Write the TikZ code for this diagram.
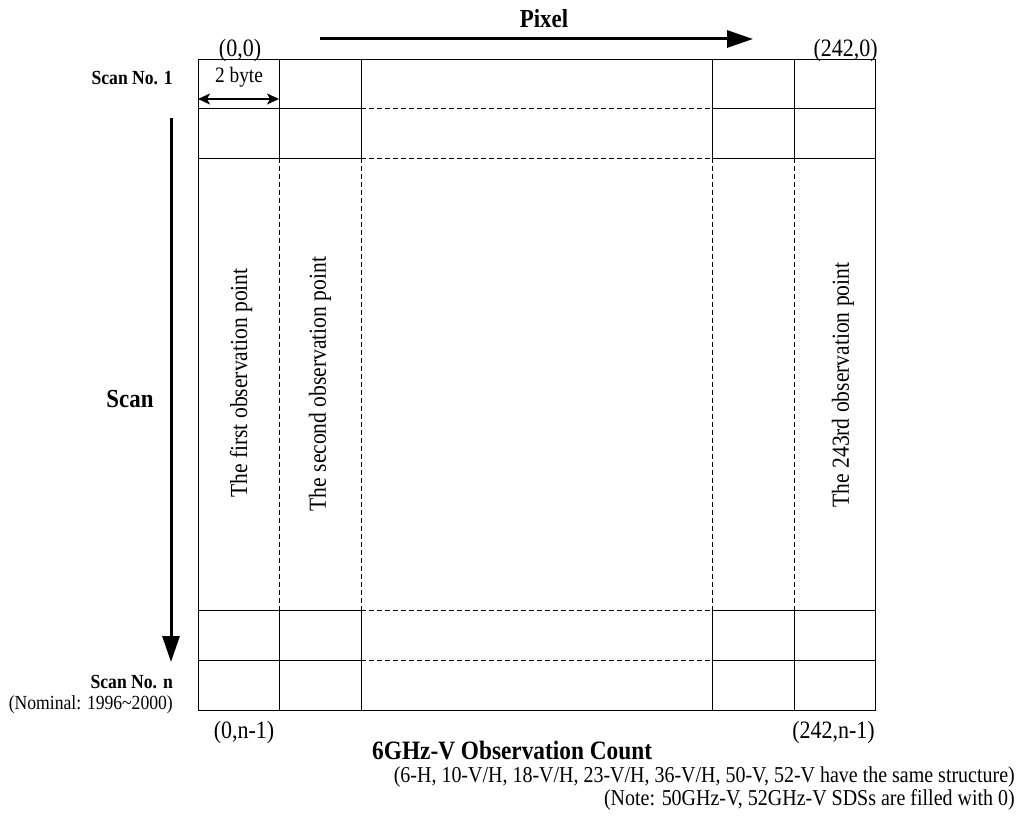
\documentclass[tikz,border=0pt]{standalone}
\usepackage{fontspec}
\setmainfont{Liberation Serif}[FakeStretch=0.88]
\usetikzlibrary{arrows.meta}

\begin{document}
\begin{tikzpicture}[x=1pt, y=-1pt,
        every node/.style={inner sep=0pt},
        cell/.style={line width=0.9pt},
        gap/.style={line width=0.9pt, dash pattern=on 5pt off 3pt},
        bigarrow/.style={line width=3pt, -{Triangle[length=26pt,width=17pt]}},
        bytearrow/.style={line width=1.2pt, {Stealth[length=12pt,width=11pt,inset=3pt]}-{Stealth[length=12pt,width=11pt,inset=3pt]}}]
        \useasboundingbox (0,0) rectangle (1021,818);

        % Outer frame
        \draw[cell] (198,59) rectangle (875,710);

        % Rows
        \foreach \y in {108,158,610,660} {
            \draw[cell] (198,\y) -- (361,\y);
            \draw[gap] (361,\y) -- (712,\y);
            \draw[cell] (712,\y) -- (875,\y);
        }

        % Columns
        \foreach \x in {279,361,712,794} {
            \draw[cell] (\x,59) -- (\x,158);
            \draw[gap] (\x,158) -- (\x,610);
            \draw[cell] (\x,610) -- (\x,710);
        }

        % Pixel direction
        \coordinate (pixstart) at (320,39);
        \coordinate (pixend) at (753,39);
        \draw[bigarrow] (pixstart) -- (pixend);
        \node (pixel) at (544,19) {\fontsize{26}{30}\selectfont\textbf{Pixel}};

        % Scan direction
        \coordinate (scanstart) at (171,118);
        \coordinate (scanend) at (171,662);
        \draw[bigarrow] (scanstart) -- (scanend);
        \node (scan) at (130,399) {\fontsize{26}{30}\selectfont\textbf{Scan}};

        % Scan numbers
        \node[anchor=east] (scanfirst) at (173,78) {\fontsize{20}{23}\selectfont\textbf{Scan No. 1}};
        \node[anchor=east] (scanlast) at (173,682) {\fontsize{20}{23}\selectfont\textbf{Scan No. n}};
        \node[anchor=east] (nominal) at (173,705) {\fontsize{20}{23}\selectfont (Nominal: 1996\textasciitilde 2000)};

        % Byte width
        \coordinate (byteleft) at (198,99);
        \coordinate (byteright) at (279,99);
        \draw[bytearrow] (byteleft) -- (byteright);
        \node (byte) at (239,77) {\fontsize{22}{25}\selectfont 2 byte};

        % Corners
        \node (topleft) at (240,50) {\fontsize{25}{28}\selectfont (0,0)};
        \node[anchor=east] (topright) at (878,50) {\fontsize{25}{28}\selectfont (242,0)};
        \node (bottomleft) at (244,732) {\fontsize{25}{28}\selectfont (0,n-1)};
        \node[anchor=east] (bottomright) at (875,732) {\fontsize{25}{28}\selectfont (242,n-1)};

        % Observation points
        \node[rotate=90] (firstpt) at (241,383) {\fontsize{24.5}{28}\selectfont The first observation point};
        \node[rotate=90] (secondpt) at (320,384) {\fontsize{24.5}{28}\selectfont The second observation point};
        \node[rotate=90] (lastpt) at (843,385) {\fontsize{24.5}{28}\selectfont The 243rd observation point};

        % Caption
        \node[anchor=west] (title) at (372,751) {\fontsize{26.5}{30}\selectfont\textbf{6GHz-V Observation Count}};
        \node[anchor=east] (same) at (1015,777) {\fontsize{22.7}{25}\selectfont (6-H, 10-V/H, 18-V/H, 23-V/H, 36-V/H, 50-V, 52-V have the same structure)};
        \node[anchor=east] (note) at (1015,800) {\fontsize{22.7}{25}\selectfont (Note: 50GHz-V, 52GHz-V SDSs are filled with 0)};
    \end{tikzpicture}
\end{document}
